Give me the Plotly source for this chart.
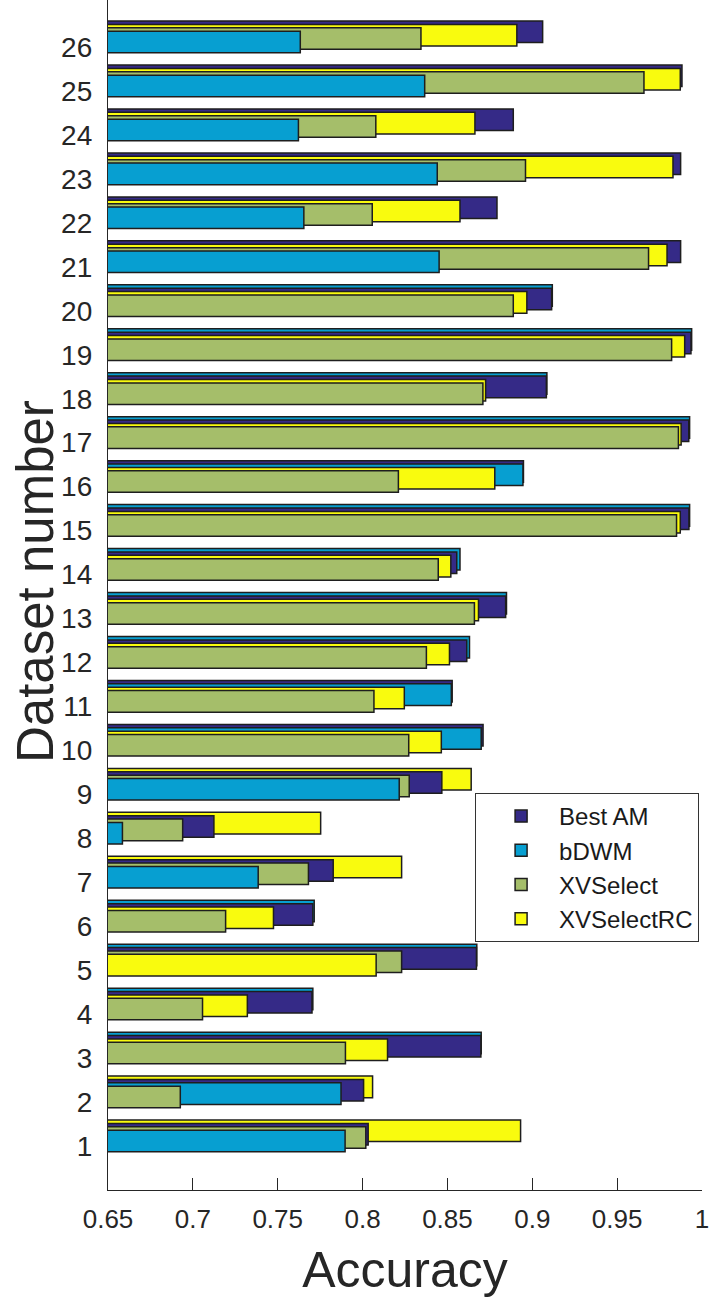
import plotly.graph_objects as go

datasets = list(range(1, 27))
series_names = ["Best AM", "bDWM", "XVSelect", "XVSelectRC"]
series_colors = ["#352a87", "#079fd1", "#a5be6a", "#f9fb0e"]

best_am = [0.8033, 0.8006, 0.8697, 0.7702, 0.8671, 0.7707, 0.7827, 0.7124, 0.8467, 0.8710,
           0.8528, 0.8614, 0.8843, 0.8555, 0.9923, 0.8948, 0.9922, 0.9083, 0.9935, 0.9114,
           0.9874, 0.8792, 0.9874, 0.8888, 0.9882, 0.9061]
bdwm = [0.7897, 0.7873, 0.8699, 0.7707, 0.8673, 0.7715, 0.7385, 0.6585, 0.8216, 0.8699,
        0.8523, 0.8630, 0.8848, 0.8574, 0.9927, 0.8945, 0.9927, 0.9086, 0.9939, 0.9118,
        0.8451, 0.7654, 0.8440, 0.7622, 0.8366, 0.7633]
xvselect = [0.8019, 0.6926, 0.7899, 0.7057, 0.8230, 0.7193, 0.7681, 0.6940, 0.8275, 0.8272,
            0.8067, 0.8376, 0.8659, 0.8446, 0.9850, 0.8211, 0.9861, 0.8709, 0.9821, 0.8888,
            0.9685, 0.8057, 0.8960, 0.8078, 0.9658, 0.8344]
xvselectrc = [0.8931, 0.8059, 0.8147, 0.7321, 0.8080, 0.7475, 0.8230, 0.7753, 0.8640, 0.8464,
              0.8246, 0.8512, 0.8683, 0.8520, 0.9872, 0.8779, 0.9877, 0.8725, 0.9898, 0.8968,
              0.9794, 0.8574, 0.9829, 0.8662, 0.9872, 0.8909]

x_tickvals = [0.65, 0.7, 0.75, 0.8, 0.85, 0.9, 0.95, 1.0]
x_ticktext = ["0.65", "0.7", "0.75", "0.8", "0.85", "0.9", "0.95", "1"]

all_series = [best_am, bdwm, xvselect, xvselectrc]

BAR_H = 0.49
STEP = 0.077
BASE_SHIFT = 0.115

fig = go.Figure()

# Rank layers: largest value drawn first (top position), smaller ones drawn over it, shifted down.
n_series = len(all_series)
for r in range(n_series):
    xs, cols = [], []
    for i in range(len(datasets)):
        vals = [(all_series[k][i], k) for k in range(n_series)]
        vals.sort(key=lambda t: -t[0])
        v, k = vals[r]
        xs.append(v)
        cols.append(series_colors[k])
    center = BASE_SHIFT + (n_series - 1 - r) * STEP
    fig.add_trace(go.Bar(
        x=xs, y=datasets, orientation="h",
        offset=center - BAR_H / 2, width=BAR_H,
        marker=dict(color=cols, line=dict(color="#1e1e1e", width=1.5)),
        showlegend=False, hoverinfo="x+y",
    ))

for name, col in zip(series_names, series_colors):
    fig.add_trace(go.Bar(
        x=[None], y=[None], orientation="h", name=name,
        marker=dict(color=col, line=dict(color="#1e1e1e", width=1.5)),
        showlegend=True,
    ))

font_family = "Liberation Sans, Arial, Helvetica, sans-serif"
fig.update_layout(
    width=715, height=1307,
    margin=dict(l=108, r=13, t=0, b=117),
    plot_bgcolor="white", paper_bgcolor="white",
    barmode="overlay",
    font=dict(family=font_family, color="#262626"),
    legend=dict(
        x=0.618, y=0.3336, xanchor="left", yanchor="top",
        bgcolor="white", bordercolor="#333333", borderwidth=1,
        font=dict(size=24, family=font_family, color="#1a1a1a"),
        itemwidth=66, indentation=7, traceorder="normal",
    ),
    annotations=[dict(
        text="Dataset number", xref="paper", yref="paper",
        x=(35 - 108) / 594, y=(1190 - 582) / 1190,
        xanchor="center", yanchor="middle", textangle=-90,
        showarrow=False, font=dict(size=51, family=font_family, color="#262626"),
    )],
)
fig.update_xaxes(
    range=[0.65, 1.0], tickvals=x_tickvals, ticktext=x_ticktext,
    ticks="inside", ticklen=12, tickwidth=1.2, tickcolor="#262626",
    showline=True, linecolor="#262626", linewidth=1.3,
    showgrid=False, zeroline=False, automargin=False,
    tickfont=dict(size=26), ticklabelstandoff=6,
    title=dict(text="Accuracy", font=dict(size=50), standoff=18),
)
fig.update_yaxes(
    range=[0, 27.07], tickvals=datasets, ticktext=[str(d) for d in datasets],
    ticks="", showline=True, linecolor="#262626", linewidth=1.3,
    showgrid=False, zeroline=False, automargin=False,
    tickfont=dict(size=28), ticklabelstandoff=9,
)

fig.write_html("out.html")
